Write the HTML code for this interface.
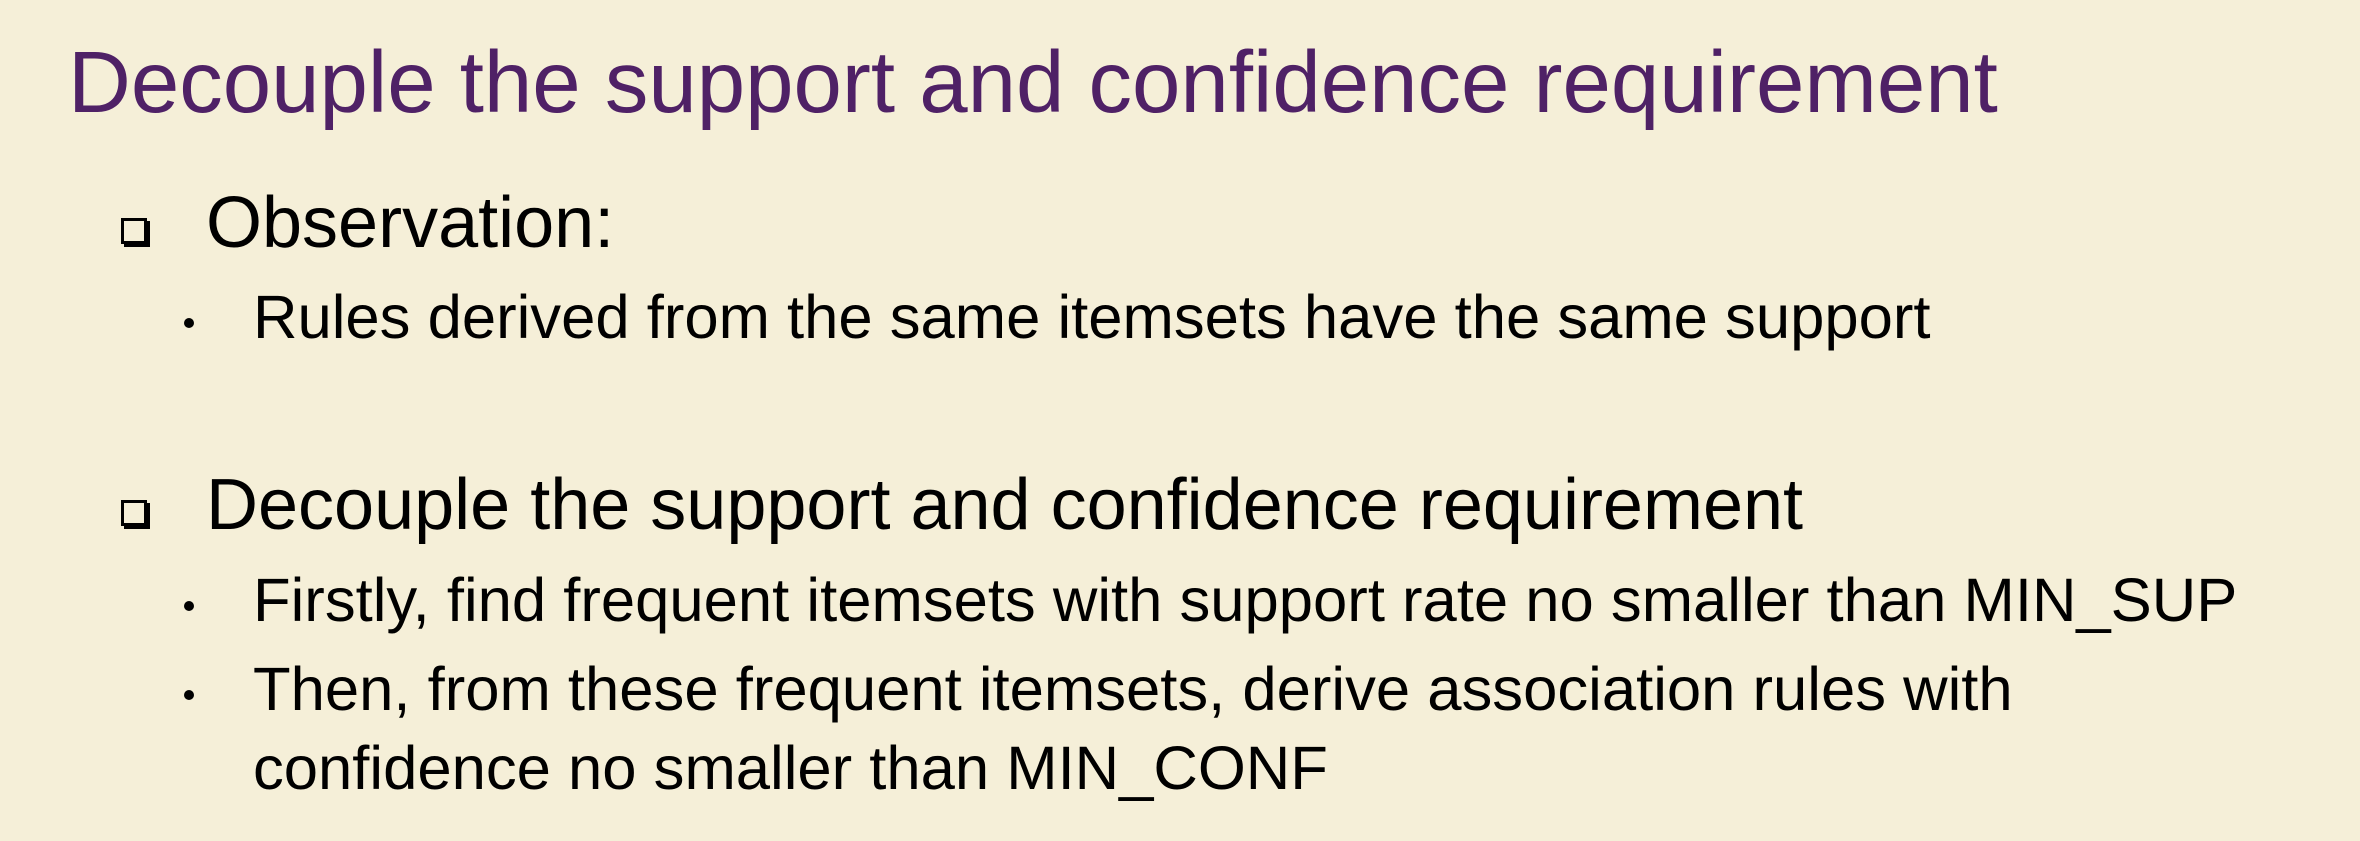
<!DOCTYPE html>
<html><head><meta charset="utf-8"><style>
html,body{margin:0;padding:0}
body{width:2360px;height:841px;background:#f5efd8;position:relative;overflow:hidden;font-family:"Liberation Sans",Arial,sans-serif;color:#000}
.t{position:absolute;line-height:1;white-space:nowrap}
.sq{position:absolute;width:20px;height:20px;border:3px solid #000;box-shadow:3px 3px 0 #000;background:#f5efd8}
.dot{position:absolute;width:10px;height:10px;border-radius:50%;background:#000}
</style></head><body>
<div class="t" style="left:68px;top:39px;font-size:87px;color:#4f2166">Decouple the support and confidence requirement</div>

<div class="sq" style="left:121px;top:218px"></div>
<div class="t" style="left:206px;top:187px;font-size:72px">Observation:</div>
<div class="dot" style="left:184px;top:318px"></div>
<div class="t" style="left:253px;top:287px;font-size:61.6px">Rules derived from the same itemsets have the same support</div>

<div class="sq" style="left:121px;top:500px"></div>
<div class="t" style="left:206px;top:469px;font-size:72px">Decouple the support and confidence requirement</div>
<div class="dot" style="left:184px;top:601px"></div>
<div class="t" style="left:253px;top:570px;font-size:61.6px">Firstly, find frequent itemsets with support rate no smaller than MIN_SUP</div>
<div class="dot" style="left:184px;top:690px"></div>
<div class="t" style="left:253px;top:659px;font-size:61.6px">Then, from these frequent itemsets, derive association rules with</div>
<div class="t" style="left:253px;top:738px;font-size:61.6px">confidence no smaller than MIN_CONF</div>
</body></html>
